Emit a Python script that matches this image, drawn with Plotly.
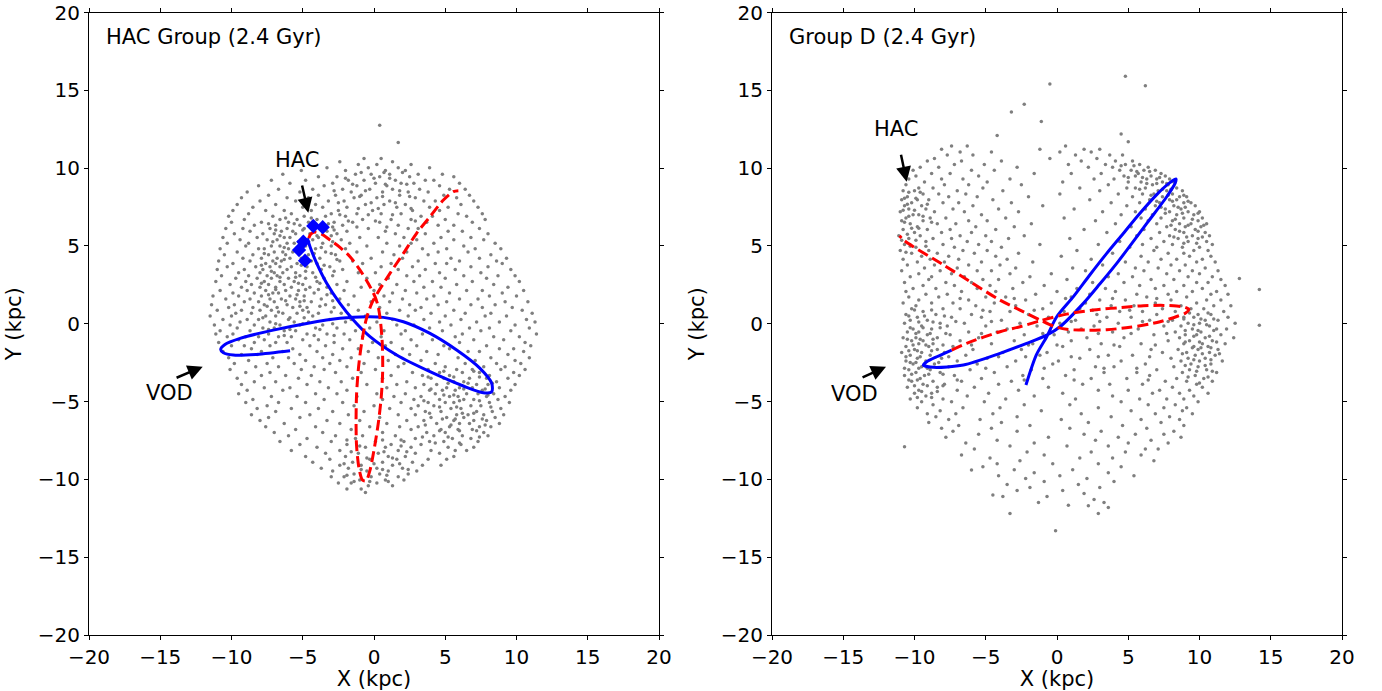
import plotly.graph_objects as go

# ---------------- data (kpc) ----------------
# Field stars, left panel: rows of (y, [x values])
left_field_rows = [
    (10.62, [-0.7, 0.5]),
    (10.41, [-2.4, 1.3]),
    (10.23, [-1.1, 0.2, 2.6]),
    (10.02, [-3.3, -0.4, 1.7, 3.9]),
    (9.84, [-5.1, -2.0, 0.8, 2.2]),
    (9.61, [-6.4, -1.3, -0.2, 1.1, 3.1, 4.8]),
    (9.45, [-3.9, -2.6, 0.4, 2.5, 5.6]),
    (9.22, [-7.2, -4.8, -1.8, -0.7, 1.5, 3.6, 4.2]),
    (9.03, [-5.9, -2.9, 0.1, 1.9, 2.8, 6.0]),
    (8.86, [-8.1, -3.5, -1.2, 0.9, 4.6]),
    (8.64, [-6.7, -4.3, -2.2, -0.3, 1.3, 3.2, 5.3, 6.4]),
    (8.47, [-8.9, -5.2, -1.6, 0.6, 2.4, 3.8]),
    (8.25, [-7.4, -3.9, -2.7, -0.9, 1.8, 4.9, 6.7]),
    (8.09, [-9.3, -6.1, -4.6, -1.4, 0.2, 2.9, 5.8]),
    (7.88, [-8.0, -5.5, -3.2, -2.1, 1.1, 3.5, 4.3, 7.0]),
    (7.66, [-9.6, -6.9, -4.1, -0.6, 0.7, 2.2, 6.1]),
    (7.49, [-8.5, -5.0, -3.6, -1.9, 1.6, 3.9, 5.2, 7.3]),
    (7.28, [-9.9, -7.6, -6.3, -4.4, -2.5, -0.1, 2.7, 4.6]),
    (7.07, [-8.8, -5.8, -3.0, -1.2, 0.5, 1.9, 5.9, 7.6]),
    (6.91, [-10.2, -7.1, -4.9, -3.4, -2.0, 3.3, 4.1, 6.5]),
    (6.70, [-9.1, -6.6, -5.4, -4.0, -0.8, 1.2, 2.6, 5.0, 7.8]),
    (6.52, [-10.0, -7.9, -6.0, -4.6, -2.8, -1.5, 0.4, 3.7, 6.9]),
    (6.33, [-8.4, -6.9, -5.2, -3.7, -2.2, 1.7, 4.5, 5.6]),
    (6.12, [-10.4, -9.2, -7.3, -6.1, -4.9, -4.2, -0.4, 2.4, 3.1, 7.4]),
    (5.95, [-8.7, -6.5, -5.7, -3.3, -1.9, 0.8, 5.2, 6.2]),
    (5.78, [-9.8, -7.8, -7.0, -5.5, -4.5, -2.6, 1.5, 3.6, 8.0]),
    (5.55, [-10.6, -8.2, -6.3, -5.9, -3.9, -1.0, 0.3, 2.1, 4.7, 6.8]),
    (5.39, [-9.4, -7.5, -6.8, -5.0, -4.3, -2.3, 3.0, 5.6, 7.7]),
    (5.17, [-10.3, -8.8, -6.1, -5.6, -3.6, -1.7, 0.9, 2.6, 4.2, 8.5]),
    (4.99, [-9.0, -7.2, -6.6, -4.8, -3.0, -0.5, 1.8, 6.3]),
    (4.82, [-10.8, -8.1, -7.7, -6.0, -5.3, -4.1, -2.0, 3.4, 5.1, 7.1, 8.9]),
    (4.61, [-9.6, -7.0, -6.4, -5.7, -3.4, -1.2, 0.6, 2.3, 4.5, 6.6]),
    (4.43, [-10.5, -8.5, -7.4, -6.2, -4.6, -2.7, 1.4, 3.8, 8.2]),
    (4.21, [-9.2, -7.9, -6.8, -5.9, -5.1, -3.8, -0.2, 2.0, 5.4, 7.4, 9.3]),
    (4.04, [-10.9, -8.7, -7.1, -6.5, -4.4, -2.4, -1.5, 3.1, 6.0, 8.6]),
    (3.87, [-9.9, -7.6, -6.9, -5.4, -4.0, -0.8, 1.2, 4.3, 5.1, 9.0]),
    (3.66, [-10.3, -8.3, -7.3, -6.6, -5.8, -4.7, -3.1, 0.5, 2.7, 6.8, 8.0]),
    (3.48, [-11.0, -9.1, -7.8, -6.1, -3.7, -2.2, 1.7, 3.6, 5.7, 9.6]),
    (3.27, [-9.5, -8.0, -7.0, -6.4, -5.5, -4.3, -1.1, 0.1, 4.6, 7.5]),
    (3.09, [-10.7, -8.8, -7.5, -6.8, -5.2, -2.9, 2.3, 3.2, 6.3, 8.7, 9.9]),
    (2.92, [-9.7, -8.2, -7.2, -6.0, -4.8, -3.5, -0.5, 1.0, 5.0, 7.9]),
    (2.71, [-11.1, -9.0, -7.7, -6.6, -5.6, -4.0, -1.9, 2.8, 4.1, 6.9, 10.2]),
    (2.53, [-10.1, -8.6, -7.4, -6.3, -5.0, -2.6, 0.4, 1.6, 5.8, 8.4]),
    (2.35, [-9.3, -8.0, -6.9, -5.8, -4.5, -3.3, -0.9, 3.5, 4.7, 9.4]),
    (2.14, [-10.8, -8.9, -7.6, -6.2, -5.3, -2.1, 0.0, 2.2, 6.5, 7.6, 10.5]),
    (1.97, [-9.9, -8.4, -7.1, -6.7, -4.2, -3.0, 1.3, 3.0, 5.3, 9.0]),
    (1.78, [-11.3, -9.5, -7.9, -5.9, -4.9, -1.4, 0.7, 4.2, 8.1, 10.0]),
    (1.59, [-10.4, -8.7, -7.3, -6.5, -5.5, -3.7, -2.4, 2.0, 3.7, 6.0, 7.3]),
    (1.41, [-9.1, -8.1, -7.0, -5.2, -4.4, -0.2, 1.1, 5.1, 9.2, 10.8]),
    (1.22, [-11.4, -9.8, -7.7, -6.1, -3.4, -1.8, 2.5, 4.5, 6.8, 8.5]),
    (1.05, [-10.2, -8.5, -6.8, -5.7, -4.7, -2.8, 0.4, 3.3, 7.6, 9.7]),
    (0.86, [-11.0, -9.3, -8.0, -7.2, -5.0, -1.1, 1.8, 2.9, 5.6, 10.4]),
    (0.67, [-9.7, -8.6, -6.4, -5.4, -3.9, -2.3, 0.9, 4.0, 6.4, 8.2, 11.1]),
    (0.49, [-11.5, -10.0, -7.6, -6.9, -4.3, -0.6, 2.4, 5.0, 7.8, 9.3]),
    (0.28, [-10.6, -8.9, -8.1, -6.0, -3.1, -1.6, 1.3, 3.5, 6.1, 10.7]),
    (0.11, [-9.4, -7.3, -5.6, -4.6, -2.0, 0.2, 4.6, 7.2, 8.8, 11.3]),
    (-0.08, [-11.2, -10.1, -8.4, -6.6, -5.2, -3.6, 1.6, 2.8, 5.4, 9.9]),
    (-0.27, [-9.6, -7.8, -7.0, -4.1, -2.6, -0.3, 3.9, 6.7, 8.1, 10.9]),
    (-0.45, [-10.8, -8.7, -6.3, -5.5, -1.3, 0.7, 2.2, 4.8, 7.5, 9.6]),
    (-0.66, [-11.1, -9.9, -7.4, -4.7, -3.3, -2.1, 1.9, 3.4, 6.2, 11.4]),
    (-0.84, [-10.3, -9.0, -8.1, -6.7, -5.8, -0.8, 0.5, 5.7, 8.4, 10.2]),
    (-1.03, [-9.5, -7.7, -5.0, -3.9, -1.7, 2.6, 4.1, 7.0, 9.1]),
    (-1.21, [-10.9, -8.4, -6.9, -6.1, -2.8, -0.1, 1.2, 6.0, 10.6]),
    (-1.42, [-10.0, -9.1, -7.3, -4.5, -3.4, 0.8, 3.0, 4.9, 7.9, 11.0]),
    (-1.60, [-8.6, -5.7, -2.2, -1.1, 2.0, 5.3, 8.8, 9.8]),
    (-1.79, [-10.6, -7.9, -6.4, -4.0, -0.4, 3.7, 6.6, 7.4, 10.5]),
    (-1.97, [-9.3, -8.2, -5.2, -2.9, 1.5, 2.5, 4.5, 9.4]),
    (-2.18, [-10.2, -7.1, -6.0, -3.6, -1.6, 0.3, 5.9, 8.2, 10.9]),
    (-2.36, [-8.8, -4.8, -2.4, 1.0, 3.3, 7.1, 9.9]),
    (-2.55, [-9.8, -7.5, -5.6, -3.1, -0.7, 2.1, 4.3, 6.4, 8.6, 10.3]),
    (-2.77, [-8.3, -6.7, -4.2, -1.9, 1.7, 5.0, 7.7, 9.2]),
    (-2.94, [-10.1, -5.1, -3.5, 0.1, 3.8, 5.8, 6.9, 8.9, 10.6]),
    (-3.14, [-9.0, -7.3, -2.7, -0.9, 2.7, 4.6, 6.2, 7.4, 9.8]),
    (-3.33, [-7.9, -6.2, -4.4, 1.2, 3.4, 5.3, 8.1, 10.2]),
    (-3.51, [-9.6, -5.3, -1.5, 0.6, 4.0, 4.9, 6.7, 7.9, 9.4]),
    (-3.72, [-8.4, -6.9, -3.8, -2.3, 2.3, 5.6, 6.3, 8.6]),
    (-3.90, [-9.3, -4.7, -0.5, 1.6, 3.5, 4.4, 7.2, 8.0, 9.9]),
    (-4.11, [-7.7, -5.9, -3.2, 0.9, 2.9, 5.1, 6.0, 6.9, 8.8]),
    (-4.28, [-8.9, -6.4, -1.9, 3.9, 4.8, 5.7, 7.6, 9.6]),
    (-4.49, [-9.5, -4.1, -2.6, 0.2, 2.2, 4.3, 6.5, 7.3, 8.4]),
    (-4.68, [-7.2, -5.4, -1.2, 1.4, 3.3, 5.3, 5.9, 7.9, 9.2]),
    (-4.87, [-8.5, -3.5, 0.6, 2.8, 4.6, 6.3, 7.0, 8.7]),
    (-5.06, [-9.0, -6.7, -4.8, -2.2, 1.9, 3.8, 5.0, 5.6, 8.1, 9.5]),
    (-5.27, [-7.5, -1.4, 0.0, 3.1, 4.2, 6.8, 7.5]),
    (-5.45, [-8.2, -5.8, -3.9, 1.1, 2.6, 5.4, 6.1, 8.9]),
    (-5.64, [-6.9, -2.9, -0.7, 3.6, 4.7, 7.2, 8.3]),
    (-5.85, [-8.6, -4.5, -1.8, 1.7, 2.9, 5.8, 6.6, 7.7, 9.1]),
    (-6.03, [-7.4, -5.2, 0.4, 4.0, 5.1, 6.3, 8.5]),
    (-6.22, [-8.0, -3.3, -1.0, 2.3, 3.5, 5.6, 7.0, 7.9]),
    (-6.41, [-6.3, -2.4, 0.9, 4.4, 6.0, 6.7, 8.8]),
    (-6.62, [-7.6, -4.1, -0.3, 1.8, 3.1, 5.3, 7.4, 8.2]),
    (-6.79, [-5.5, -1.6, 2.6, 4.7, 5.9, 6.9]),
    (-6.98, [-7.0, -3.6, 0.6, 3.7, 5.0, 7.7]),
    (-7.19, [-6.0, -2.7, -0.8, 1.5, 4.2, 6.2, 8.0]),
    (-7.37, [-4.7, -1.3, 2.9, 5.5, 6.8]),
    (-7.57, [-6.6, -3.0, 0.1, 2.1, 3.9, 4.9, 7.3]),
    (-7.76, [-5.2, -1.9, 1.2, 3.3, 6.1]),
    (-7.93, [-4.0, -0.6, 0.8, 2.6, 5.2, 7.0]),
    (-8.14, [-5.8, -2.4, 1.7, 4.0, 5.7, 6.5]),
    (-8.32, [-3.4, -1.1, 0.3, 2.9, 4.6]),
    (-8.53, [-4.8, -2.0, 1.0, 2.2, 5.6]),
    (-8.71, [-3.1, -0.3, 1.6, 3.8, 5.1]),
    (-8.90, [-4.3, -1.5, 0.6, 2.7]),
    (-9.09, [-2.4, -0.9, 1.3, 3.4, 4.7]),
    (-9.28, [-3.7, -1.8, 0.2, 2.0]),
    (-9.46, [-2.9, -0.5, 1.0, 3.0]),
    (-9.65, [-1.4, 0.4, 2.4]),
    (-9.83, [-3.0, -2.1, -0.2, 1.7]),
    (-10.04, [-1.0, 0.8, 2.1]),
    (-10.23, [-2.5, -1.6, 0.2]),
    (-10.41, [-0.4, 1.3]),
    (-10.62, [-1.9, -0.9]),
    (-10.85, [-0.6]),
]
# extra stars in the crowded parts of the left panel
left_dense_rows = [
    (9.72, [-0.9, 0.7, 2.0]), (9.35, [-2.0, 0.0, 1.1]), (8.96, [-1.5, 0.8, 2.3]),
    (8.55, [-2.8, -0.6, 1.8]), (8.17, [-1.0, 0.6, 2.5]), (7.78, [-2.5, -0.2, 1.5]),
    (7.40, [-1.1, 0.3, 2.6]), (7.00, [-2.4, -0.4, 1.3]), (6.60, [-1.8, 0.1, 2.9]),
    (6.22, [-2.9, -1.2, 0.9]),
    (6.80, [-6.2, -4.4]), (6.42, [-7.4, -5.6, -3.2]), (6.02, [-6.9, -5.0, -2.8]),
    (5.66, [-6.6, -4.0, -3.0]), (5.27, [-7.1, -5.3, -4.6, -2.9]), (4.90, [-6.3, -5.0, -3.7]),
    (4.52, [-7.7, -4.2, -3.0]), (4.13, [-6.3, -4.9, -2.6]), (3.76, [-7.9, -5.1, -3.5]),
    (3.37, [-7.2, -4.8, -2.8]), (2.98, [-6.6, -5.5, -4.1]), (2.60, [-7.9, -5.3, -3.8]),
    (2.20, [-6.9, -4.8, -3.9]), (1.87, [-7.4, -5.4, -3.3]), (1.48, [-6.2, -4.9, -2.9]),
    (1.12, [-7.5, -5.2, -3.8]), (0.76, [-6.7, -4.6, -3.0]), (0.38, [-7.8, -5.9, -4.9]),
    (0.00, [-6.9, -5.0, -2.9]), (-0.37, [-7.4, -5.9, -3.8]), (-0.75, [-6.3, -4.2, -2.8]),
    (-3.05, [4.9, 7.0]), (-3.42, [3.8, 5.6, 7.4]), (-3.82, [5.2, 6.6, 8.3]),
    (-4.20, [4.0, 6.3, 7.8]), (-4.58, [4.9, 5.6, 8.0]), (-4.95, [3.5, 6.0, 7.4]),
    (-5.35, [4.6, 5.8, 8.2]), (-5.75, [3.9, 6.2, 7.0]), (-6.12, [4.8, 5.7, 7.6]),
    (-6.50, [3.6, 5.4, 7.8]), (-6.88, [4.6, 6.0, 7.2]), (-7.27, [3.4, 5.2, 7.4]),
    (-7.66, [4.3, 6.0]),
    (-7.47, [-1.9, 0.6, 1.9]), (-7.85, [-1.0, 1.9]), (-8.23, [-1.6, 0.7, 2.3]),
    (-8.62, [-0.5, 1.3]), (-8.99, [-2.1, 0.0, 1.8]), (-9.37, [-0.9, 0.6, 2.4]),
    (-9.74, [-1.9, 0.9]), (-10.13, [-1.4, -0.3, 1.0]),
]
left_outlier_x = [0.4, 1.7]
left_outlier_y = [12.75, 11.65]

# Field stars, right panel
right_field_rows = [
    (11.42, [-7.4, -6.3, 0.6]),
    (11.21, [-8.1, -1.2, 1.9, 3.0]),
    (11.03, [-6.8, -4.6, 0.2, 2.4]),
    (10.84, [-7.7, -5.9, 1.3, 3.7, 4.6]),
    (10.62, [-8.6, -0.5, 2.8]),
    (10.45, [-9.1, -6.7, -3.9, 1.7, 4.1, 5.3]),
    (10.24, [-7.2, -5.1, 0.8, 3.4, 4.8, 5.8]),
    (10.06, [-9.6, -8.3, -2.8, 2.2, 3.9, 6.4]),
    (9.87, [-10.1, -6.0, -4.4, 4.4, 5.2, 6.1, 6.9]),
    (9.66, [-8.8, -7.5, -1.6, 1.0, 3.1, 5.7, 7.3]),
    (9.49, [-9.9, -5.5, 4.7, 5.5, 6.6, 7.6]),
    (9.30, [-10.4, -8.1, -6.6, -3.3, 2.6, 4.0, 6.3, 7.0, 7.9]),
    (9.11, [-9.3, -4.9, 0.4, 5.0, 5.9, 7.4, 8.2]),
    (8.93, [-10.6, -7.9, -6.2, -2.5, 3.6, 6.7, 7.8]),
    (8.72, [-9.7, -8.7, -5.2, 1.6, 4.9, 5.5, 6.2, 8.4]),
    (8.55, [-10.8, -10.0, -7.0, -3.8, 3.0, 7.1, 7.7, 8.8]),
    (8.34, [-9.4, -8.3, -6.4, 0.2, 4.3, 6.0, 6.8, 8.1]),
    (8.16, [-10.5, -7.6, -5.6, -2.0, 5.3, 7.4, 8.6, 9.1]),
    (7.96, [-10.9, -9.8, -9.0, -4.5, 2.3, 6.5, 7.9, 8.4]),
    (7.77, [-10.2, -8.0, -6.9, -3.2, 3.8, 5.8, 7.2, 8.9, 9.4]),
    (7.59, [-10.7, -9.5, -5.9, -1.0, 4.9, 6.9, 8.2, 9.7]),
    (7.38, [-10.4, -9.2, -7.3, -4.1, 1.2, 6.2, 7.6, 8.7]),
    (7.19, [-11.0, -8.6, -6.5, -2.7, 3.2, 5.5, 7.9, 9.2, 10.0]),
    (7.01, [-10.1, -9.7, -5.3, 4.5, 6.7, 8.4, 9.6]),
    (6.80, [-10.6, -8.9, -7.8, -3.6, 0.5, 5.9, 7.3, 8.9, 10.2]),
    (6.62, [-10.9, -9.4, -6.2, -4.9, 2.7, 6.4, 8.1, 9.9]),
    (6.43, [-10.3, -8.4, -7.1, -1.8, 4.1, 7.0, 8.6, 9.4, 10.5]),
    (6.24, [-9.8, -5.7, -3.0, 5.2, 7.7, 9.0, 10.1]),
    (6.05, [-10.8, -9.1, -7.5, -4.3, 1.9, 6.1, 8.3, 9.7]),
    (5.87, [-10.0, -8.1, -6.0, 3.5, 7.2, 8.9, 10.4]),
    (5.66, [-11.1, -9.6, -6.8, -5.0, -2.3, 5.6, 7.9, 9.5, 10.7]),
    (5.48, [-10.4, -8.7, -7.4, -3.4, 0.9, 6.6, 8.5, 9.9]),
    (5.29, [-9.2, -6.3, -4.6, 4.4, 7.5, 9.2, 10.5]),
    (5.10, [-10.7, -8.0, -5.5, -1.2, 2.9, 6.0, 8.1, 10.9]),
    (4.92, [-9.9, -7.2, -3.9, 5.1, 7.0, 8.8, 10.0]),
    (4.71, [-11.0, -9.0, -6.6, -4.9, 1.4, 6.8, 9.6, 10.6]),
    (4.53, [-10.2, -8.4, -5.8, -2.7, 3.9, 7.8, 8.9]),
    (4.34, [-9.5, -7.6, -4.3, 0.3, 5.9, 9.3, 10.8]),
    (4.15, [-10.8, -8.9, -6.9, -3.5, 2.4, 7.3, 8.4, 10.2]),
    (3.97, [-9.8, -7.9, -5.3, -1.7, 4.8, 6.4, 9.8, 11.1]),
    (3.78, [-10.5, -8.6, -6.2, -4.0, 3.2, 8.0, 9.0]),
    (3.59, [-9.3, -7.0, -2.9, 1.1, 5.5, 7.1, 10.4]),
    (3.40, [-10.9, -8.2, -5.6, -4.6, 2.0, 6.1, 8.6, 9.5, 11.3]),
    (3.21, [-9.7, -7.4, -3.3, -0.4, 4.3, 7.7, 10.0]),
    (3.02, [-10.3, -8.8, -6.5, -1.9, 3.6, 5.3, 9.2, 10.9]),
    (2.84, [-9.0, -5.2, -4.1, 0.7, 6.6, 8.2, 11.5]),
    (2.65, [-10.7, -7.8, -6.0, -2.4, 2.5, 4.7, 9.8, 10.6]),
    (2.46, [-9.4, -7.2, -4.7, -0.9, 5.8, 7.5, 8.9, 11.8]),
    (2.27, [-10.1, -8.5, -5.6, -3.1, 1.4, 3.4, 6.9, 10.2]),
    (2.08, [-10.6, -6.7, -4.3, 0.0, 4.1, 8.4, 9.5, 11.2]),
    (1.90, [-9.2, -7.7, -1.5, 2.3, 5.6, 7.8, 10.8, 12.0]),
    (1.72, [-10.4, -8.3, -5.0, -3.6, 1.0, 6.3, 9.1]),
    (1.53, [-9.7, -6.2, -2.2, 3.0, 4.8, 8.0, 10.5, 11.5]),
    (1.34, [-10.8, -8.8, -7.3, -4.4, -0.4, 2.0, 6.9, 9.8]),
    (1.15, [-9.9, -5.7, -2.9, 3.8, 5.4, 8.7, 11.0, 12.2]),
    (0.96, [-10.2, -8.0, -6.8, -1.0, 1.6, 7.4, 9.4, 10.3]),
    (0.78, [-9.4, -4.7, -3.3, 0.5, 4.4, 6.0, 8.3, 11.7]),
    (0.59, [-10.6, -8.5, -6.0, -2.0, 2.8, 7.0, 9.9, 10.8]),
    (0.41, [-9.8, -7.4, -5.3, -0.6, 3.5, 5.2, 8.9, 9.6, 12.0]),
    (0.22, [-10.3, -9.1, -3.9, 1.3, 6.5, 8.1, 10.4, 11.3]),
    (0.03, [-10.7, -8.2, -6.5, -2.6, 0.2, 4.3, 9.2, 10.0, 12.5]),
    (-0.15, [-9.5, -7.7, -5.0, -1.4, 2.6, 7.5, 8.7, 10.7]),
    (-0.34, [-10.1, -8.8, -3.5, 1.7, 5.7, 9.5, 11.2, 11.9]),
    (-0.53, [-10.5, -9.7, -6.2, -4.2, 0.8, 3.9, 8.3, 10.1]),
    (-0.71, [-9.1, -7.5, -2.3, -0.2, 6.8, 9.0, 9.8, 11.5]),
    (-0.90, [-10.8, -9.9, -8.4, -5.5, 2.1, 4.7, 8.6, 10.4, 12.4]),
    (-1.09, [-10.2, -9.4, -6.8, -3.0, 1.0, 7.8, 9.3, 10.9]),
    (-1.28, [-9.7, -8.7, -4.6, -1.7, 3.1, 5.9, 8.9, 10.2, 11.8]),
    (-1.46, [-10.6, -9.0, -7.3, 0.4, 4.4, 9.6, 10.6]),
    (-1.65, [-10.0, -8.4, -5.9, -2.5, 2.3, 6.6, 8.5, 9.9, 11.3]),
    (-1.84, [-10.9, -9.5, -7.9, -3.8, -0.7, 7.4, 9.1, 10.7]),
    (-2.03, [-10.3, -8.9, -6.4, -1.2, 3.6, 5.3, 9.7, 11.1]),
    (-2.22, [-9.8, -8.1, -4.9, 1.6, 8.0, 9.2, 10.4]),
    (-2.40, [-10.6, -9.2, -7.0, -2.9, 0.1, 4.5, 8.7, 10.0, 11.6]),
    (-2.58, [-10.1, -8.6, -5.6, -0.3, 6.2, 9.4, 10.8]),
    (-2.77, [-9.5, -7.6, -3.5, 2.7, 4.0, 8.2, 9.9]),
    (-2.95, [-10.4, -8.9, -6.1, -1.8, 1.2, 7.0, 9.3, 10.5]),
    (-3.14, [-9.9, -8.2, -4.4, 3.3, 5.6, 8.8, 11.2]),
    (-3.33, [-10.7, -9.3, -7.2, -2.4, 0.6, 6.5, 9.7]),
    (-3.52, [-9.6, -5.3, -1.0, 2.4, 4.9, 8.4, 10.3]),
    (-3.70, [-10.2, -8.7, -6.7, -3.2, 7.6, 9.1, 10.9]),
    (-3.89, [-9.4, -7.9, -4.1, 1.8, 3.7, 6.0, 9.8]),
    (-4.08, [-10.5, -8.4, -5.8, -0.6, 8.1, 10.2]),
    (-4.27, [-9.7, -7.0, -2.7, 2.9, 5.0, 7.2, 9.3]),
    (-4.46, [-10.0, -8.8, -4.8, 0.4, 6.7, 8.6, 10.6]),
    (-4.64, [-9.2, -6.3, -1.6, 3.9, 9.6]),
    (-4.83, [-10.3, -8.0, -3.6, 1.3, 5.8, 7.7, 8.9]),
    (-5.02, [-9.5, -7.4, -5.1, 4.5, 9.9]),
    (-5.21, [-8.7, -2.3, 0.9, 6.4, 8.3]),
    (-5.40, [-9.8, -6.6, -4.0, 2.9, 7.5, 9.1]),
    (-5.59, [-8.2, -1.1, 5.2, 8.8]),
    (-5.78, [-9.1, -7.1, -4.5, 1.7, 6.9, 9.5]),
    (-5.97, [-8.5, -2.8, 3.8, 7.9]),
    (-6.16, [-7.6, -5.4, 0.3, 5.9, 8.6]),
    (-6.35, [-9.0, -3.9, 2.2, 7.3]),
    (-6.54, [-6.9, -1.9, 4.6, 8.9]),
    (-6.72, [-8.1, -4.6, 0.9, 6.3]),
    (-6.91, [-7.3, -2.8, 3.1, 8.2]),
    (-7.10, [-5.5, 1.9, 5.5, 7.5]),
    (-7.29, [-7.8, -0.6, 4.3, 8.7]),
    (-7.48, [-4.2, 2.7, 6.6]),
    (-7.67, [-6.4, -1.6, 5.0, 7.8]),
    (-7.86, [-3.3, 0.7, 3.6]),
    (-8.05, [-5.8, 6.2, 7.1]),
    (-8.24, [-2.1, 2.4, 4.8]),
    (-8.43, [-6.7, -0.9, 5.9]),
    (-8.62, [-4.7, 1.6, 3.9]),
    (-8.81, [-2.6, 6.8]),
    (-9.00, [-0.3, 2.9]),
    (-9.19, [-5.2, 4.5]),
    (-9.38, [-3.0, 1.1]),
    (-9.57, [-1.6, 3.6]),
    (-9.76, [-4.1, 0.2, 5.4]),
    (-9.95, [-2.2, 2.1]),
    (-10.14, [-0.9, 4.0]),
    (-10.33, [-3.5, 1.5]),
    (-10.52, [-1.9, 3.0]),
    (-10.71, [-2.8, 0.4]),
    (-10.90, [1.9]),
    (-11.10, [-3.8, -0.7]),
    (-11.29, [2.6]),
    (-11.48, [-1.3, 3.3]),
    (-11.67, [0.8]),
]
# extra stars in the crowded parts of the right panel
right_dense_rows = [
    (0.88, [-10.0, -8.8]), (0.50, [-10.4, -9.3, -7.9]), (0.12, [-9.7, -8.7]),
    (-0.25, [-10.3, -9.4, -8.2]), (-0.62, [-9.9, -8.9, -7.8]), (-1.00, [-10.5, -9.6, -8.7]),
    (-1.37, [-10.1, -9.2, -8.0]), (-1.74, [-10.4, -9.8, -8.8]), (-2.12, [-10.6, -9.6, -7.6]),
    (-2.49, [-10.3, -9.9, -8.3]), (-2.86, [-10.7, -9.7, -9.1]), (-3.24, [-10.2, -9.0, -8.0]),
    (-3.61, [-10.4, -9.8]), (-3.98, [-10.0, -9.1, -8.0]), (-4.36, [-9.5, -8.4]),
    (-4.74, [-9.8, -8.8]),
    (0.69, [9.3, 10.6]), (0.31, [8.9, 10.1, 11.0]), (-0.06, [9.6, 10.5]),
    (-0.44, [9.0, 9.9, 11.0]), (-0.81, [9.6, 10.7]), (-1.18, [9.0, 10.0, 11.2]),
    (-1.55, [9.5, 10.1, 10.8]), (-1.93, [8.8, 10.2, 11.4]), (-2.31, [9.6, 10.8]),
    (-2.68, [9.0, 10.4]), (-3.05, [9.8, 10.9]), (-3.42, [9.2, 10.6]), (-3.80, [10.0]),
    (10.15, [4.5, 5.4]), (9.78, [5.6, 6.5]), (9.40, [5.0, 6.0, 7.2]), (9.02, [6.3, 7.0, 7.7]),
    (8.64, [5.8, 7.4, 8.0]), (8.25, [6.6, 7.8, 8.9]), (7.87, [7.0, 8.1, 9.2]),
    (7.48, [7.3, 8.5, 9.0]), (7.10, [7.6, 8.8, 9.9]), (6.71, [8.3, 9.5]),
    (6.33, [8.0, 9.2, 10.3]), (5.95, [8.6, 9.9]), (5.57, [8.2, 9.1, 10.2]), (5.18, [8.9, 9.8]),
    (8.45, [-10.4, -9.6]), (8.07, [-10.7, -9.9]), (7.68, [-10.5, -9.1]), (7.30, [-10.8, -10.0]),
    (6.91, [-10.4, -9.4]), (6.52, [-10.7, -8.8]), (6.14, [-10.2, -9.7]), (5.75, [-10.5]),
    (5.37, [-10.9, -9.9]), (4.98, [-10.3, -9.2]), (4.60, [-10.6]),
    (1.62, [-6.8, -3.0, 0.6, 3.9, 7.0]), (0.86, [-5.2, -1.6, 2.5, 5.1]),
    (0.14, [-7.1, -4.6, 1.0, 3.0, 6.0, 7.8]), (-0.62, [-5.3, -1.0, 2.9, 5.2, 7.7]),
    (-1.37, [-6.0, -2.0, 0.0, 4.0, 6.9]), (-2.12, [-4.1, -2.2, 1.0, 2.9, 6.5]),
    (-2.86, [-5.0, -0.9, 3.3, 5.6]), (-3.61, [-7.0, -2.3, 1.2, 6.4]),
]
right_outlier_x = [4.8, 6.2, -0.5, -2.3, -3.2, -1.1, -4.2, 4.5, 5.0, 12.8, 14.2, 14.2,
                   -10.7, -6.0, -4.2, -4.5, -3.3, -0.1, 2.2, 2.9, 3.6]
right_outlier_y = [15.9, 15.3, 15.4, 14.1, 13.6, 13.0, 12.1, 12.2, 11.7, 2.9, 2.2, -0.1,
                   -7.9, -9.4, -9.0, -11.0, -12.2, -13.3, -11.7, -12.2, -11.8]

# Orbits, left panel (HAC Group)
hac_blue_x = [-5.89, -8.23, -9.87, -10.57, -10.76, -10.46, -9.40, -7.07, -4.72, -2.39, -0.51,
              0.65, 2.06, 3.93, 5.80, 7.44, 8.26, 8.26, 7.67, 6.27, 3.93, 1.59, -0.28, -1.45,
              -2.39, -3.32, -4.02, -4.49, -4.68]
hac_blue_y = [-1.74, -1.97, -2.01, -1.86, -1.65, -1.33, -0.94, -0.41, 0.02, 0.35, 0.45,
              0.41, 0.13, -0.62, -1.69, -2.87, -3.83, -4.37, -4.43, -4.00, -3.08, -2.01, -0.83, 0.24,
              1.31, 2.60, 3.88, 4.95, 5.49]
hac_red_x = [-4.58, -4.44, -4.14, -3.67, -3.09, -2.39, -1.68, -0.98, -0.40, 0.07, 0.30, 0.47,
             0.58, 0.61, 0.51, 0.30, 0.00, -0.28, -0.56, -0.80, -1.03, -1.22, -1.26, -1.22,
             -1.08, -0.87, -0.56, -0.16, 0.30, 1.12, 2.06, 2.99, 3.93, 4.87, 5.57, 5.92]
hac_red_y = [5.49, 5.76, 5.89, 5.76, 5.38, 4.91, 4.31, 3.45, 2.59, 1.74, 1.09, 0.02,
             -1.26, -2.98, -4.69, -6.40, -8.12, -9.40, -10.09, -10.05, -9.40, -7.90, -6.19, -4.47,
             -2.76, -1.26, 0.24, 1.31, 2.06, 3.24, 4.52, 5.81, 6.88, 7.95, 8.49, 8.55]
hac_members_x = [-4.26, -3.60, -4.96, -5.26, -4.84]
hac_members_y = [6.28, 6.20, 5.27, 4.74, 4.05]

# Orbits, right panel (Group D)
d_blue_x = [-2.18, -1.45, -0.72, -0.02, 1.15, 2.30, 3.49, 4.65, 5.82, 7.00, 7.90, 8.35,
            8.30, 7.70, 6.30, 5.20, 4.19, 3.00, 1.85, 0.21, -0.72, -2.13, -4.00, -6.57,
            -8.68, -9.38, -9.14, -8.44, -7.39]
d_blue_y = [-3.94, -2.00, -0.83, 0.45, 1.74, 3.13, 4.52, 5.80, 7.10, 8.30, 9.05, 9.30,
            9.05, 8.16, 6.45, 5.10, 3.88, 2.55, 1.31, -0.19, -0.73, -1.26, -1.90, -2.65,
            -2.80, -2.65, -2.44, -2.12, -1.69]
d_red_x = [-7.39, -6.34, -4.00, -2.60, -1.19, 0.68, 2.55, 5.12, 6.06, 7.50, 8.40, 9.00, 9.25,
           9.00, 8.50, 7.23, 5.12, 3.50, 2.08, 0.68, -0.26, -1.19, -2.60, -4.00, -6.00, -8.00,
           -10.08, -10.80, -11.05]
d_red_y = [-1.69, -1.26, -0.51, -0.19, 0.19, 0.62, 0.88, 1.09, 1.16, 1.18, 1.14, 1.05, 0.92,
           0.68, 0.50, 0.13, -0.23, -0.38, -0.41, -0.36, -0.15, 0.24, 0.88, 1.52, 2.65, 3.80,
           4.95, 5.40, 5.65]

panel_titles = ["HAC Group (2.4 Gyr)", "Group D (2.4 Gyr)"]
tick_vals = [-20, -15, -10, -5, 0, 5, 10, 15, 20]

# ---------------- figure ----------------
FONT = "DejaVu Sans"
fig = go.Figure()


def rows_to_xy(*row_sets):
    xs, ys = [], []
    for rows in row_sets:
        for yv, xlist in rows:
            for xv in xlist:
                xs.append(xv)
                ys.append(yv)
    return xs, ys


def add_panel(rows, dense, ox, oy, bx, by, rx, ry, xa, ya):
    fx, fy = rows_to_xy(rows, dense)
    fx += ox
    fy += oy
    fig.add_trace(go.Scatter(x=fx, y=fy, mode="markers", xaxis=xa, yaxis=ya,
                             marker=dict(size=3.5, color="#7f7f7f", line=dict(width=0)),
                             showlegend=False, hoverinfo="skip"))
    fig.add_trace(go.Scatter(x=bx, y=by, mode="lines", xaxis=xa, yaxis=ya,
                             line=dict(color="#0000ff", width=3, shape="spline", smoothing=0.8),
                             showlegend=False))
    fig.add_trace(go.Scatter(x=rx, y=ry, mode="lines", xaxis=xa, yaxis=ya,
                             line=dict(color="#ff0000", width=3, dash="11px,5px",
                                       shape="spline", smoothing=0.8),
                             showlegend=False))


add_panel(left_field_rows, left_dense_rows, left_outlier_x, left_outlier_y,
          hac_blue_x, hac_blue_y, hac_red_x, hac_red_y, "x", "y")
fig.add_trace(go.Scatter(x=hac_members_x, y=hac_members_y, mode="markers",
                         marker=dict(symbol="diamond", size=11, color="#0000ff"),
                         showlegend=False))
add_panel(right_field_rows, right_dense_rows, right_outlier_x, right_outlier_y,
          d_blue_x, d_blue_y, d_red_x, d_red_y, "x2", "y2")

W, H = 1382, 691
xdom1 = [89 / W, 659 / W]
xdom2 = [772 / W, 1342 / W]
ydom = [1 - 635 / H, 1 - 12.5 / H]

axis_common = dict(range=[-20, 20], tickvals=tick_vals, showgrid=False, zeroline=False,
                   showline=True, linecolor="black", linewidth=1, mirror="ticks",
                   ticks="outside", ticklen=4, tickwidth=1, tickcolor="black",
                   tickfont=dict(family=FONT, size=20, color="black"),
                   automargin=False)

fig.update_layout(
    width=W, height=H, margin=dict(l=0, r=0, t=0, b=0),
    paper_bgcolor="white", plot_bgcolor="white",
    xaxis=dict(domain=xdom1, anchor="y",
               title=dict(text="X (kpc)", font=dict(family=FONT, size=21, color="black"), standoff=4),
               **axis_common),
    yaxis=dict(domain=ydom, anchor="x",
               title=dict(text="Y (kpc)", font=dict(family=FONT, size=21, color="black"), standoff=10),
               **axis_common),
    xaxis2=dict(domain=xdom2, anchor="y2",
                title=dict(text="X (kpc)", font=dict(family=FONT, size=21, color="black"), standoff=4),
                **axis_common),
    yaxis2=dict(domain=ydom, anchor="x2",
                title=dict(text="Y (kpc)", font=dict(family=FONT, size=21, color="black"), standoff=10),
                **axis_common),
    font=dict(family=FONT, color="black"),
)

ann = []
for i, (xr, yr) in enumerate([("x", "y"), ("x2", "y2")]):
    ann.append(dict(text=panel_titles[i], x=-18.95, y=18.43, xref=xr, yref=yr,
                    xanchor="left", yanchor="middle", showarrow=False,
                    font=dict(family=FONT, size=21, color="black")))

labels = [
    # (text, text_x, text_y, tail_x, tail_y, head_x, head_y, xref, yref)
    ("HAC", -5.38, 10.52, -5.07, 8.98, -4.61, 7.13, "x", "y"),
    ("VOD", -14.32, -4.47, -13.96, -3.51, -12.02, -2.76, "x", "y"),
    ("HAC", -11.30, 12.49, -10.97, 10.95, -10.55, 9.13, "x2", "y2"),
    ("VOD", -14.18, -4.52, -13.75, -3.49, -12.00, -2.76, "x2", "y2"),
]
for t, tx, ty, ax_, ay_, hx, hy, xr, yr in labels:
    ann.append(dict(text=t, x=tx, y=ty, xref=xr, yref=yr, showarrow=False,
                    xanchor="center", yanchor="middle",
                    font=dict(family=FONT, size=21, color="black")))
    ann.append(dict(text="", x=hx, y=hy, xref=xr, yref=yr, ax=ax_, ay=ay_,
                    axref=xr, ayref=yr, showarrow=True, arrowhead=2, arrowsize=1.2,
                    arrowwidth=2.5, arrowcolor="black", standoff=0, startstandoff=0))
fig.update_layout(annotations=ann)

fig.write_html("out.html", config={"displayModeBar": False},
               post_script="document.body.style.margin='0px';document.body.style.overflow='hidden';")
